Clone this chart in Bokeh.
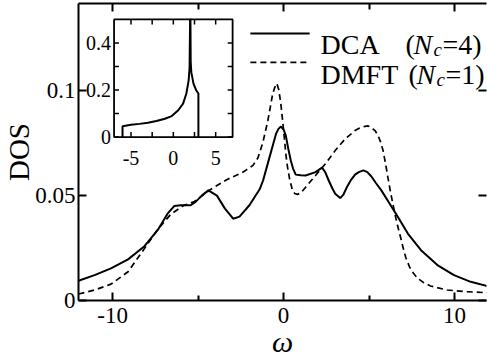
from bokeh.plotting import figure
from bokeh.models import Range1d, FixedTicker, LinearAxis, Label
from bokeh.core.properties import value
from bokeh.embed import file_html
from bokeh.resources import INLINE

# ---------------- data ----------------
omega_dca = [-12.0, -11.06, -10.1, -9.1, -8.14, -7.37, -6.79, -6.4, -6.02, -5.44,
             -5.15, -4.77, -4.4, -3.9, -3.43, -2.95, -2.58, -2.0, -1.4, -1.2,
             -0.85, -0.445, -0.3, -0.156, 0.0, 0.13, 0.27, 0.42, 0.55, 0.71,
             1.0, 1.29, 1.87, 2.25, 2.45, 2.64, 2.85, 3.02, 3.31, 3.5,
             3.70, 3.95, 4.18, 4.4, 4.67, 4.9, 5.14, 5.4, 5.72, 6.2,
             6.69, 7.27, 8.04, 9.0, 9.97, 10.95, 11.92]
dos_dca = [0.0094, 0.0121, 0.0153, 0.0196, 0.0259, 0.0335, 0.0414, 0.0450, 0.0454, 0.0454,
           0.0470, 0.0501, 0.0525, 0.0500, 0.0438, 0.0390, 0.0400, 0.0454, 0.0530, 0.0572,
           0.0675, 0.0794, 0.0818, 0.0829, 0.0815, 0.0786, 0.0725, 0.0667, 0.0630, 0.0600,
           0.0597, 0.0596, 0.0612, 0.0633, 0.0610, 0.0572, 0.0535, 0.0509, 0.0488, 0.0505,
           0.0540, 0.0575, 0.0600, 0.0612, 0.0620, 0.0612, 0.0591, 0.0560, 0.0525, 0.0462,
           0.0398, 0.0319, 0.0240, 0.0169, 0.0121, 0.0089, 0.0069]

omega_dmft = [-12.0, -11.06, -10.1, -9.1, -8.14, -7.37, -6.6, -5.83, -5.25, -4.3,
              -3.33, -2.37, -1.79, -1.5, -1.21, -0.92, -0.64, -0.52, -0.40, -0.28,
              -0.16, -0.06, 0.04, 0.13, 0.23, 0.35, 0.52, 0.65, 0.81, 1.0,
              1.29, 1.87, 2.45, 3.02, 3.60, 4.18, 4.45, 4.76, 4.95, 5.14,
              5.35, 5.53, 5.68, 5.82, 5.96, 6.1, 6.25, 6.39, 6.55, 6.69,
              6.85, 6.98, 7.15, 7.37, 7.6, 7.85, 8.2, 8.6, 9.57, 10.73,
              11.92]
dos_dmft = [0.0031, 0.0050, 0.0078, 0.0137, 0.0248, 0.0338, 0.0411, 0.0454, 0.0470, 0.0528,
            0.0576, 0.0612, 0.0644, 0.0680, 0.0754, 0.0857, 0.0984, 0.1015, 0.1035, 0.1005,
            0.0937, 0.0860, 0.0778, 0.0700, 0.0636, 0.0580, 0.0525, 0.0510, 0.0506, 0.0512,
            0.0540, 0.0596, 0.0652, 0.0715, 0.0770, 0.0810, 0.0822, 0.0830, 0.0832, 0.0823,
            0.0810, 0.0786, 0.0755, 0.0715, 0.0655, 0.0588, 0.0520, 0.0462, 0.0400, 0.0350,
            0.0300, 0.0256, 0.0205, 0.0160, 0.0130, 0.0105, 0.0085, 0.0069, 0.0050, 0.0042,
            0.0037]

inset_omega = [-6.0, -6.0, -5.0, -4.0, -3.0, -2.0, -1.0, -0.19, 0.58, 1.15,
               1.54, 1.81, 1.92, 1.98, 2.02, 2.05, 2.12, 2.38, 2.69, 2.96, 2.96]
inset_dos = [0.0, 0.046, 0.052, 0.056, 0.061, 0.068, 0.078, 0.089, 0.114, 0.142,
             0.185, 0.241, 0.297, 0.5, 0.5, 0.32, 0.276, 0.227, 0.199, 0.185, 0.0]

x_ticks = [-10, 0, 10]
x_tick_labels = ["-10", "0", "10"]
x_minor_ticks = [-5, 5]
y_ticks = [0, 0.05, 0.1]
y_tick_labels = ["0", "0.05", "0.1"]
x_title = "ω"
y_title = "DOS"

inset_x_ticks = [-5, 0, 5]
inset_x_labels = ["-5", "0", "5"]
inset_x_minor = [-2.5, 2.5]
inset_y_ticks = [0, 0.2, 0.4]
inset_y_labels = ["0", "0.2", "0.4"]
inset_y_minor = [0.1, 0.3]

legend_names = ["DCA", "DMFT"]
legend_nc = ["4", "1"]

# ---------------- layout ----------------
FONT = "Liberation Serif"
W, H = 487, 360
BL, BR, BT, BB = 73, 1, 3, 59
X0 = -12.0
PXU = 17.3          # pixels per omega unit
PYU = 2105.0        # pixels per DOS unit
FL, FR = BL, W - BR
FT, FB = BT, H - BB
X1 = X0 + (FR - FL) / PXU
Y0 = 0.0
Y1 = Y0 + (FB - FT) / PYU
IX0, IX1 = -7.0, 7.0
IY0, IY1 = 0.0, 0.5


def dx(px):
    return X0 + (px - FL) / (FR - FL) * (X1 - X0)


def dy(py):
    return Y0 + (FB - py) / (FB - FT) * (Y1 - Y0)


def sx(px):
    return px - FL


def sy(py):
    return FB - py


p = figure(width=W, height=H, x_range=Range1d(X0, X1), y_range=Range1d(Y0, Y1),
           output_backend="svg", toolbar_location=None,
           x_axis_location=None, y_axis_location=None,
           min_border_left=BL, min_border_right=BR,
           min_border_top=BT, min_border_bottom=BB)
p.outline_line_color = None
p.grid.visible = False
p.background_fill_color = "white"
p.border_fill_color = "white"


def make_axis(ticks, minor, tick_in, minor_in, labels=None, size="23px",
              standoff=3, line=True):
    ax = LinearAxis(ticker=FixedTicker(ticks=ticks, minor_ticks=minor))
    ax.major_tick_in = tick_in
    ax.major_tick_out = 0
    ax.minor_tick_in = minor_in
    ax.minor_tick_out = 0
    ax.axis_line_width = 2
    ax.major_tick_line_width = 2
    ax.minor_tick_line_width = 2
    ax.axis_line_color = "black" if line else None
    ax.major_tick_line_color = "black"
    ax.minor_tick_line_color = "black"
    ax.major_label_text_font = FONT
    ax.major_label_text_color = "black"
    ax.major_label_standoff = standoff
    if labels is not None:
        ax.major_label_overrides = dict(zip(ticks, labels))
        ax.major_label_text_font_size = size
    else:
        ax.major_label_text_font_size = "0px"
        ax.major_label_text_alpha = 0
        ax.major_label_standoff = 0
    return ax


ax_b = make_axis(x_ticks, x_minor_ticks, 8, 5, x_tick_labels, standoff=7)
ax_b.axis_label = x_title
ax_b.axis_label_text_font = FONT
ax_b.axis_label_text_font_style = "italic"
ax_b.axis_label_text_font_size = "30px"
ax_b.axis_label_text_color = "black"
ax_b.axis_label_standoff = -1
p.add_layout(ax_b, "below")

ax_l = make_axis(y_ticks, [], 8, 0, y_tick_labels, standoff=3)
ax_l.axis_label = y_title
ax_l.axis_label_text_font = FONT
ax_l.axis_label_text_font_style = "normal"
ax_l.axis_label_text_font_size = "29px"
ax_l.axis_label_text_color = "black"
ax_l.axis_label_standoff = -3
p.add_layout(ax_l, "left")

p.add_layout(make_axis(x_ticks, x_minor_ticks, 8, 6), "above")
p.add_layout(make_axis(y_ticks, [], 8, 0, line=False), "right")

# main curves
p.line(omega_dca, dos_dca, line_color="black", line_width=2)
p.line(omega_dmft, dos_dmft, line_color="black", line_width=1.7, line_dash="6 4")

# legend (drawn by hand so that N_c can be italic with a subscript)
rows = [(33, 45, 400, None), (62, 75, 403, "6 4")]
for (ly, base, paren_x, dash), name, nc in zip(rows, legend_names, legend_nc):
    kw = dict(line_color="black", line_width=2 if dash is None else 1.7)
    if dash is not None:
        kw["line_dash"] = dash
    p.line([dx(247), dx(307)], [dy(ly), dy(ly)], **kw)
    common = dict(x_units="screen", y_units="screen", text_font=FONT,
                  text_color="black", text_baseline="alphabetic", text_align="left")
    p.add_layout(Label(x=sx(315), y=sy(base), text=name, text_font_size="28px", **common))
    p.add_layout(Label(x=sx(paren_x), y=sy(base), text="(", text_font_size="28px", **common))
    p.add_layout(Label(x=sx(paren_x + 8), y=sy(base), text="N", text_font_size="28px",
                       text_font_style="italic", **common))
    p.add_layout(Label(x=sx(paren_x + 28), y=sy(base + 5), text="c", text_font_size="19px",
                       text_font_style="italic", **common))
    p.add_layout(Label(x=sx(paren_x + 37), y=sy(base), text="=" + nc + ")",
                       text_font_size="28px", **common))

# ---------------- inset ----------------
IL, IR, ITOP, IBOT = 109, 229, 19, 137
sub = p.subplot(x_source=Range1d(IX0, IX1), y_source=Range1d(IY0, IY1),
                x_target=Range1d(dx(IL), dx(IR)), y_target=Range1d(dy(IBOT), dy(ITOP)))

kx = (IX1 - IX0) / (IR - IL)
ky = (IY1 - IY0) / (IBOT - ITOP)
TL = 5
all_x = sorted(inset_x_ticks + inset_x_minor)
all_y = sorted(inset_y_ticks + inset_y_minor)
nx, ny = len(all_x), len(all_y)
tick_kw = dict(line_color="black", line_width=1.5)
sub.segment(x0=all_x, y0=[IY0] * nx, x1=all_x, y1=[IY0 + TL * ky] * nx, **tick_kw)
sub.segment(x0=all_x, y0=[IY1] * nx, x1=all_x, y1=[IY1 - TL * ky] * nx, **tick_kw)
sub.segment(x0=[IX0] * ny, y0=all_y, x1=[IX0 + TL * kx] * ny, y1=all_y, **tick_kw)
sub.segment(x0=[IX1] * ny, y0=all_y, x1=[IX1 - TL * kx] * ny, y1=all_y, **tick_kw)

sub.line(inset_omega, inset_dos, line_color="black", line_width=2)
sub.quad(left=[IX0], right=[IX1], bottom=[IY0], top=[IY1],
         fill_color=None, line_color="black", line_width=1.8)

sub.text(x=inset_x_ticks, y=[IY0] * len(inset_x_ticks), text=inset_x_labels,
         text_font=value(FONT), text_font_size=value("20px"), text_color="black",
         text_align=value("center"), text_baseline=value("alphabetic"), y_offset=21)
sub.text(x=[IX0] * len(inset_y_ticks), y=inset_y_ticks, text=inset_y_labels,
         text_font=value(FONT), text_font_size=value("20px"), text_color="black",
         text_align=value("right"), text_baseline=value("middle"), x_offset=-3)

open("out.html", "w").write(file_html(p, INLINE))
